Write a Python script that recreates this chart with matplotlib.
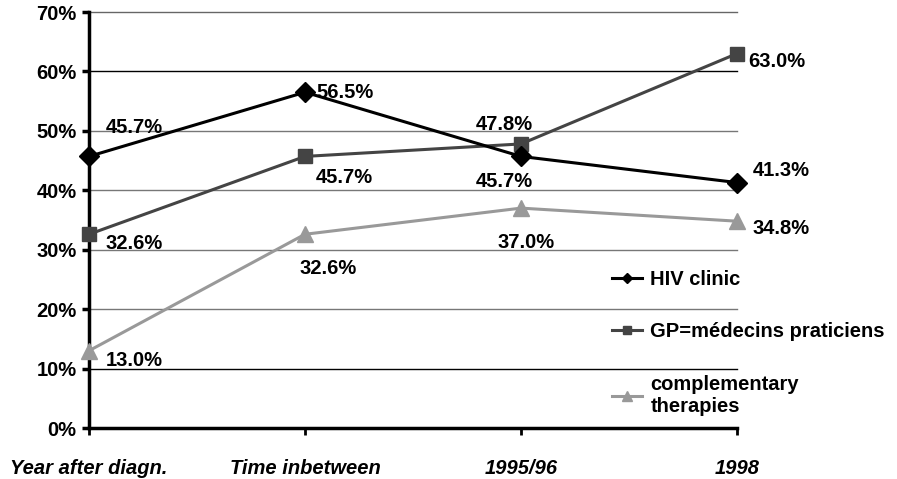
import matplotlib
matplotlib.use("Agg")
import matplotlib.pyplot as plt

categories = ["Year after diagn.", "Time inbetween", "1995/96", "1998"]
hiv_clinic = [45.7, 56.5, 45.7, 41.3]
gp = [32.6, 45.7, 47.8, 63.0]
complementary = [13.0, 32.6, 37.0, 34.8]
series_names = ["HIV clinic", "GP=médecins praticiens", "complementary\ntherapies"]
yticks = [0, 10, 20, 30, 40, 50, 60, 70]

plt.rcParams['font.family'] = ['Liberation Sans', 'DejaVu Sans']

W, H = 897, 479
fig = plt.figure(figsize=(W / 100, H / 100), dpi=100)
ax = fig.add_axes([89 / W, 1 - 428 / H, (737 - 89) / W, (428 - 12) / H])

x = list(range(len(categories)))
l1, = ax.plot(x, hiv_clinic, color="black", lw=2.2, marker="D", ms=10, clip_on=False, zorder=5)
l2, = ax.plot(x, gp, color="#444444", lw=2.2, marker="s", ms=10, clip_on=False, zorder=4)
l3, = ax.plot(x, complementary, color="#999999", lw=2.2, marker="^", ms=12, clip_on=False, zorder=3)

ax.set_xlim(0, 3)
ax.set_ylim(0, 70)
grid_colors = ["black", "#777777", "#777777", "#777777", "#777777", "black", "#666666"]
for yv, c in zip(yticks[1:], grid_colors):
    ax.axhline(yv, color=c, lw=1.0, zorder=1, clip_on=False)

for s in ["top", "right"]:
    ax.spines[s].set_visible(False)
for s in ["left", "bottom"]:
    ax.spines[s].set_linewidth(2.5)
    ax.spines[s].set_color("black")

fs = 14.5
fw = "bold"
ax.set_yticks(yticks)
ax.set_yticklabels([f"{v}%" for v in yticks], fontsize=fs, fontweight=fw)
ax.set_xticks(x)
ax.set_xticklabels(categories, fontsize=fs, fontweight=fw, style="italic")
ax.tick_params(axis="y", length=5, width=2.5, pad=4)
ax.tick_params(axis="x", length=5, width=2, pad=17)

def lab(xi, yi, txt, dx, dy, ha="left"):
    ax.annotate(txt, (xi, yi), xytext=(dx, dy), textcoords="offset points",
                ha=ha, va="center", fontsize=fs, fontweight=fw, zorder=6,
                annotation_clip=False)

lab(0, hiv_clinic[0], "45.7%", 12, 21)
lab(1, hiv_clinic[1], "56.5%", 8, 0)
lab(2, hiv_clinic[2], "45.7%", -12, -18, ha="center")
lab(3, hiv_clinic[3], "41.3%", 11, 9)

lab(0, gp[0], "32.6%", 12, -7)
lab(1, gp[1], "45.7%", 8, -15)
lab(2, gp[2], "47.8%", -12, 14, ha="center")
lab(3, gp[3], "63.0%", 8, -6)

lab(0, complementary[0], "13.0%", 12, -7)
lab(1, complementary[1], "32.6%", -4, -25)
lab(2, complementary[2], "37.0%", -17, -25)
lab(3, complementary[3], "34.8%", 11, -5)

leg = fig.legend([l1, l2, l3], series_names, loc="upper left",
                 bbox_to_anchor=(594 / W, 1 - 252 / H), frameon=False,
                 prop={"size": fs, "weight": fw}, handlelength=1.5,
                 handletextpad=0.4, labelspacing=1.65, markerscale=0.55)
for line in leg.get_lines():
    line.set_linewidth(2.2)

fig.savefig("out.png", dpi=100)
